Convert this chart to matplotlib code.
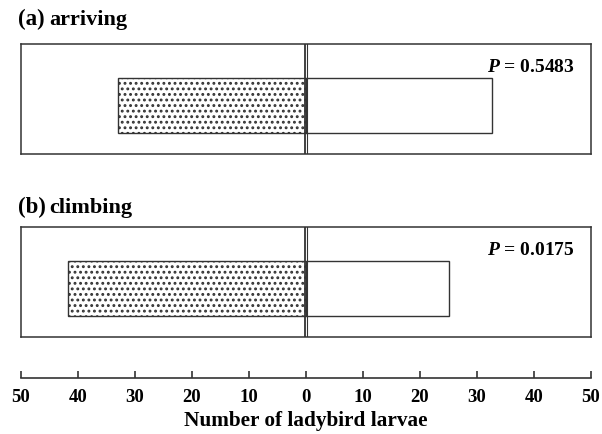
import numpy as np
import matplotlib.pyplot as plt

plt.rcParams['font.family'] = ['Liberation Serif', 'DejaVu Serif']
plt.rcParams['font.weight'] = 'bold'
plt.rcParams['mathtext.fontset'] = 'custom'
plt.rcParams['mathtext.it'] = 'Liberation Serif:italic:bold'
plt.rcParams['mathtext.rm'] = 'Liberation Serif:bold'
plt.rcParams['hatch.color'] = '#333333'
plt.rcParams['hatch.linewidth'] = 1.3

# datos
panels = ['(a)', '(b)']
titles = ['arriving', 'climbing']
left_vals = [33.0, 41.8]     # barra punteada (lado izquierdo)
right_vals = [32.7, 25.0]    # barra blanca (lado derecho)
p_labels = ['$P$ = 0.5483', '$P$ = 0.0175']
ticks = [-50, -40, -30, -20, -10, 0, 10, 20, 30, 40, 50]

W, H = 602, 435
fig = plt.figure(figsize=(W / 100, H / 100), dpi=100)

def px(x0, y0, x1, y1):
    # caja en pixeles (desde arriba) -> fracciones de figura
    return [x0 / W, 1 - y1 / H, (x1 - x0) / W, (y1 - y0) / H]

edge = '#333333'
boxes = [(44.7, 155.0), (227.7, 337.5)]
title_y = [25.0, 213.0]

for i in range(2):
    ax = fig.add_axes(px(21, boxes[i][0], 591, boxes[i][1]))
    ax.set_xlim(-50, 50)
    ax.set_ylim(0, 1)
    ax.barh(0.44, -left_vals[i], height=0.5, left=0, color='white',
            edgecolor=edge, hatch='...', linewidth=1.0)
    ax.barh(0.44, right_vals[i], height=0.5, left=0, color='white',
            edgecolor=edge, linewidth=1.0)
    ax.axvline(-0.15, color=edge, lw=1.3)
    ax.axvline(0.25, color=edge, lw=0.8)
    for s in ax.spines.values():
        s.set_color(edge)
        s.set_linewidth(1.1)
    ax.set_xticks([])
    ax.set_yticks([])
    ax.text(0.972, 0.755, p_labels[i], transform=ax.transAxes,
            ha='right', va='baseline', fontsize=14)
    fig.text(18 / W, 1 - title_y[i] / H, panels[i], fontsize=16.5,
             ha='left', va='baseline')
    fig.text(49 / W, 1 - title_y[i] / H, titles[i], fontsize=16,
             ha='left', va='baseline')

# eje inferior
axb = fig.add_axes(px(21, 369, 591, 379))
axb.set_xlim(-50, 50)
axb.set_ylim(0, 1)
for k in ['top', 'left', 'right']:
    axb.spines[k].set_visible(False)
axb.spines['bottom'].set_color(edge)
axb.spines['bottom'].set_linewidth(1.2)
axb.set_yticks([])
axb.set_xticks(ticks)
axb.set_xticklabels([str(abs(t)) for t in ticks])
axb.tick_params(axis='x', direction='in', length=5, width=1.2, color=edge,
                pad=7, labelsize=13.5)
axb.patch.set_alpha(0)
fig.text(306 / W, 1 - 421 / H, 'Number of ladybird larvae', fontsize=15.3,
         ha='center', va='center')

fig.savefig('out.png', dpi=100)
